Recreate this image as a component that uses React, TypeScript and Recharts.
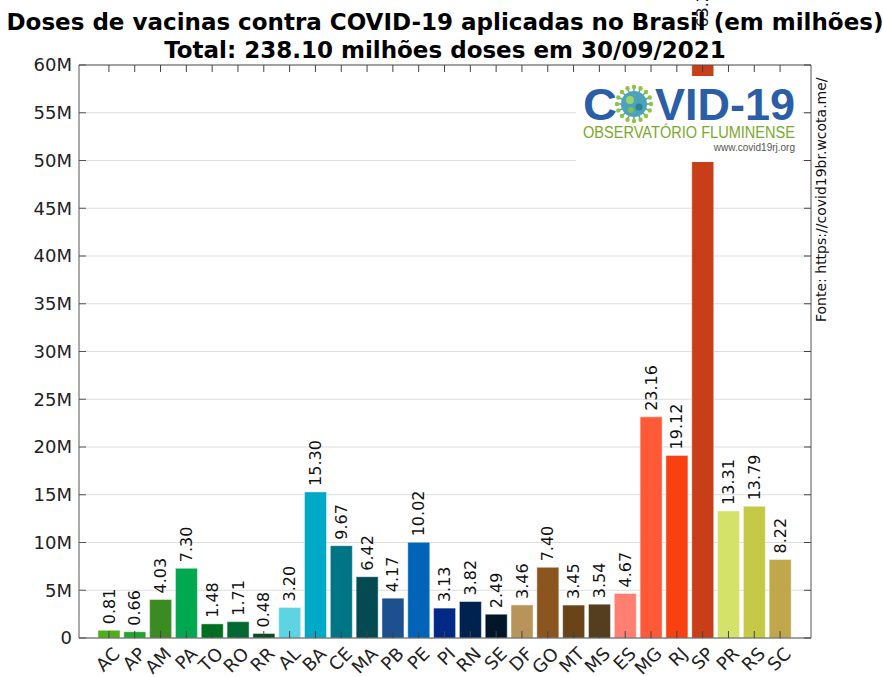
import React from "react"
import { Bar, BarChart, CartesianGrid, Cell, LabelList, XAxis, YAxis } from "recharts"

const states = ["AC", "AP", "AM", "PA", "TO", "RO", "RR", "AL", "BA", "CE", "MA", "PB", "PE", "PI", "RN", "SE", "DF", "GO", "MT", "MS", "ES", "MG", "RJ", "SP", "PR", "RS", "SC"]
const doses = [0.81, 0.66, 4.03, 7.3, 1.48, 1.71, 0.48, 3.2, 15.3, 9.67, 6.42, 4.17, 10.02, 3.13, 3.82, 2.49, 3.46, 7.4, 3.45, 3.54, 4.67, 23.16, 19.12, 63.29, 13.31, 13.79, 8.22]
const colors = [
  "#4fae1a", "#22a52f", "#3a8c22", "#00a84f", "#006f1f", "#006a31", "#0a4a20",
  "#5ed4e2", "#00a9c6", "#007585", "#034a52", "#1e4f8e", "#0064b8", "#002a86", "#00224f", "#02162a",
  "#b9945a", "#8b5520", "#6a4319", "#553d20",
  "#ff8070", "#ff5a38", "#f94010", "#c83e18",
  "#d4e26a", "#c4c946", "#c0a74c",
]
const yTicks = [0, 5e6, 10e6, 15e6, 20e6, 25e6, 30e6, 35e6, 40e6, 45e6, 50e6, 55e6, 60e6]
const title = "Doses de vacinas contra COVID-19 aplicadas no Brasil (em milhões)"
const subtitle = "Total: 238.10 milhões doses em 30/09/2021"
const source = "Fonte: https://covid19br.wcota.me/"

const data = states.map((s, i) => ({ state: s, value: doses[i] * 1e6 }))

const FONT = "DejaVu Sans, sans-serif"

const XTick = (props: any) => {
  const { x, y, payload } = props
  return (
    <text
      transform={`translate(${x + 12},${y + 24}) rotate(-45)`}
      textAnchor="end"
      fontSize={18}
      fontFamily={FONT}
      fill="#222"
    >
      {payload.value}
    </text>
  )
}

const ValueLabel = (props: any) => {
  const { x, y, width, value } = props
  const cx = x + width / 2
  const top = y - 6
  return (
    <text
      transform={`translate(${cx},${top}) rotate(-90)`}
      textAnchor="start"
      dominantBaseline="central"
      fontSize={16}
      fontFamily={FONT}
      fill="#111"
    >
      {(value / 1e6).toFixed(2)}
    </text>
  )
}

const Virus = ({ cx, cy }: { cx: number; cy: number }) => {
  const spikes = Array.from({ length: 16 }, (_, i) => (i * Math.PI * 2) / 16)
  return (
    <g>
      {spikes.map((a, i) => (
        <g key={i}>
          <line x1={cx} y1={cy} x2={cx + Math.cos(a) * 17} y2={cy + Math.sin(a) * 17} stroke="#5a9fb0" strokeWidth={1.5} />
          <circle cx={cx + Math.cos(a) * 17} cy={cy + Math.sin(a) * 17} r={2.2} fill="#8cc63f" />
        </g>
      ))}
      <circle cx={cx} cy={cy} r={13} fill="#4aa3b8" />
      <circle cx={cx - 4} cy={cy - 4} r={4} fill="#9bd36a" />
      <circle cx={cx + 5} cy={cy + 3} r={3.5} fill="#2f7f9a" />
      <circle cx={cx - 3} cy={cy + 6} r={3} fill="#7cc050" />
    </g>
  )
}

export default function App() {
  return (
    <div style={{ position: "absolute", left: 0, top: 0, width: 883, height: 677, background: "#fff" }}>
      <BarChart
        width={883}
        height={677}
        data={data}
        margin={{ top: 64, right: 71, left: 0, bottom: 9 }}
      >
        <CartesianGrid vertical={false} stroke="#dddddd" />
        <XAxis
          dataKey="state"
          interval={0}
          height={30}
          padding={{ left: 17, right: 18 }}
          tickSize={-7}
          tickMargin={0}
          tick={<XTick />}
          stroke="#555"
          tickLine={{ stroke: "#444" }}
        />
        <XAxis
          xAxisId="top"
          orientation="top"
          dataKey="state"
          interval={0}
          height={1}
          padding={{ left: 17, right: 18 }}
          tickSize={-7}
          tickFormatter={() => ""}
          stroke="#555"
          tickLine={{ stroke: "#444" }}
        />
        <YAxis
          domain={[0, 60e6]}
          ticks={yTicks}
          allowDataOverflow
          width={79}
          tickSize={-7}
          tickMargin={14}
          interval={0}
          tickFormatter={(v: number) => (v === 0 ? "0" : `${v / 1e6}M`)}
          tick={{ fontSize: 18, fontFamily: FONT, fill: "#222" }}
          stroke="#555"
        />
        <YAxis
          yAxisId="right"
          orientation="right"
          domain={[0, 60e6]}
          ticks={yTicks}
          allowDataOverflow
          width={1}
          tickSize={-7}
          interval={0}
          tickFormatter={() => ""}
          stroke="#555"
          tickLine={{ stroke: "#444" }}
        />
        <Bar dataKey="value" barSize={22} isAnimationActive={false} stroke="#ffffff" strokeOpacity={0.45} strokeWidth={1}>
          {data.map((d, i) => (
            <Cell key={d.state} fill={colors[i]} />
          ))}
          <LabelList dataKey="value" content={<ValueLabel />} />
        </Bar>
      </BarChart>
      <svg width={883} height={677} style={{ position: "absolute", left: 0, top: 0, pointerEvents: "none" }}>
        <text x={445} y={30} textAnchor="middle" fontSize={23} fontWeight="bold" fontFamily={FONT} fill="#000">
          {title}
        </text>
        <text x={445} y={58} textAnchor="middle" fontSize={23} fontWeight="bold" fontFamily={FONT} fill="#000">
          {subtitle}
        </text>
        <text transform="translate(826,322) rotate(-90)" fontSize={14} fontFamily={FONT} fill="#111">
          {source}
        </text>
        <rect x={576} y={76} width={226} height={86} fill="#fff" />
        <text x={583} y={120} fontSize={44} fontWeight="bold" fontFamily="Liberation Sans, Arial, sans-serif" fill="#2a5fa8" textLength={34} lengthAdjust="spacingAndGlyphs">
          C
        </text>
        <Virus cx={634} cy={104} />
        <text x={655} y={120} fontSize={44} fontWeight="bold" fontFamily="Liberation Sans, Arial, sans-serif" fill="#2a5fa8" textLength={140} lengthAdjust="spacingAndGlyphs">
          VID-19
        </text>
        <text x={583} y={138} fontSize={16} fontFamily="Liberation Sans, Arial, sans-serif" fill="#7aaa2a" textLength={212} lengthAdjust="spacingAndGlyphs">
          OBSERVATÓRIO FLUMINENSE
        </text>
        <text x={795} y={151} textAnchor="end" fontSize={10} fontFamily="Liberation Sans, Arial, sans-serif" fill="#555">
          www.covid19rj.org
        </text>
      </svg>
    </div>
  )
}
